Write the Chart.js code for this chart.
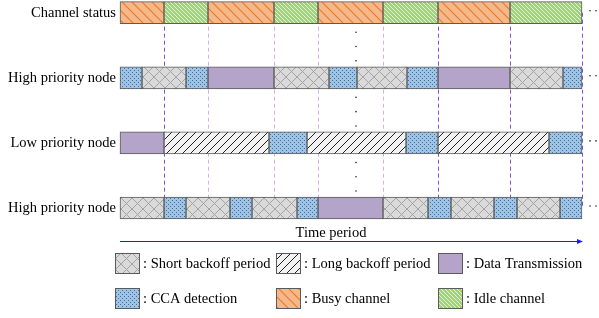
<!DOCTYPE html>
<html>
<head>
<meta charset="utf-8">
<script src="https://cdn.jsdelivr.net/npm/chart.js@4.4.1/dist/chart.umd.min.js"></script>
<style>
	body { margin: 0; background: #fff; }
	#wrap { width: 599px; height: 318px; position: relative; }
</style>
</head>
<body>
<div id="wrap"><canvas id="grafico"></canvas></div>
<script>
// Dados do diagrama (tempo em unidades do eixo, 0 a 462)
var linhas = ["Channel status", "High priority node", "Low priority node", "High priority node"];

var canalTempos = [0, 44, 88, 154, 198, 263, 318, 390, 462];
var canalTipos = ["busy", "idle", "busy", "idle", "busy", "idle", "busy", "idle"];

var alta1Tempos = [0, 22, 66, 88, 154, 209, 237, 287, 318, 390, 443, 462];
var alta1Tipos = ["cca", "short", "cca", "data", "short", "cca", "short", "cca", "data", "short", "cca"];

var baixaTempos = [0, 44, 149, 187, 286, 318, 429, 462];
var baixaTipos = ["data", "long", "cca", "long", "cca", "long", "cca"];

var alta2Tempos = [0, 44, 66, 110, 132, 177, 198, 263, 308, 331, 374, 397, 440, 462];
var alta2Tipos = ["short", "cca", "short", "cca", "short", "cca", "data", "short", "cca", "short", "cca", "short", "cca"];

var linhasTracejadas = [44, 88, 154, 198, 263, 318, 390, 462];
var tracejadoForte = [true, false, false, false, false, true, true, true];

var tempoReticencias = 236;
var tempoFim = 462;

var legendaTipos = ["short", "long", "data", "cca", "busy", "idle"];
var legendaTextos = [": Short backoff period", ": Long backoff period", ": Data Transmission",
	": CCA detection", ": Busy channel", ": Idle channel"];

var fonte = "'Liberation Serif', 'Times New Roman', serif";
var tamFonte = 14.5;
Chart.defaults.font.family = fonte;

// Padroes de preenchimento
function criarPadrao(tam, desenhar) {
	var c = document.createElement("canvas");
	c.width = tam;
	c.height = tam;
	var g = c.getContext("2d");
	desenhar(g, tam);
	return document.createElement("canvas").getContext("2d").createPattern(c, "repeat");
}

var preenchimentos = {
	data: "#b4a4c9",
	cca: criarPadrao(4, function (g, t) {
		g.fillStyle = "#9dc3e6";
		g.fillRect(0, 0, t, t);
		g.fillStyle = "#4d6e8e";
		g.fillRect(0, 0, 1, 1);
		g.fillRect(2, 2, 1, 1);
	}),
	short: criarPadrao(11, function (g, t) {
		g.fillStyle = "#dadada";
		g.fillRect(0, 0, t, t);
		g.strokeStyle = "#a3a3a3";
		g.lineWidth = 1;
		g.beginPath();
		g.moveTo(0, 0); g.lineTo(t, t);
		g.moveTo(t, 0); g.lineTo(0, t);
		g.stroke();
	}),
	long: criarPadrao(8, function (g, t) {
		g.fillStyle = "#f2f2f2";
		g.fillRect(0, 0, t, t);
		g.strokeStyle = "#222";
		g.lineWidth = 1;
		g.beginPath();
		g.moveTo(0, t); g.lineTo(t, 0);
		g.moveTo(-1, 1); g.lineTo(1, -1);
		g.moveTo(t - 1, t + 1); g.lineTo(t + 1, t - 1);
		g.stroke();
	}),
	busy: criarPadrao(10, function (g, t) {
		g.fillStyle = "#f5b88a";
		g.fillRect(0, 0, t, t);
		g.strokeStyle = "#f07a26";
		g.lineWidth = 1.2;
		g.beginPath();
		g.moveTo(0, 0); g.lineTo(t, t);
		g.moveTo(-1, t - 1); g.lineTo(1, t + 1);
		g.moveTo(t - 1, -1); g.lineTo(t + 1, 1);
		g.stroke();
	}),
	idle: criarPadrao(4, function (g, t) {
		g.fillStyle = "#a2d17e";
		g.fillRect(0, 0, t, t);
		g.strokeStyle = "#e4f2d8";
		g.lineWidth = 1;
		g.beginPath();
		g.moveTo(0, 0); g.lineTo(t, t);
		g.moveTo(-1, t - 1); g.lineTo(1, t + 1);
		g.moveTo(t - 1, -1); g.lineTo(t + 1, 1);
		g.stroke();
	}),
};

// Monta os datasets (um por posicao de segmento)
var todasLinhas = [
	{ tempos: canalTempos, tipos: canalTipos },
	{ tempos: alta1Tempos, tipos: alta1Tipos },
	{ tempos: baixaTempos, tipos: baixaTipos },
	{ tempos: alta2Tempos, tipos: alta2Tipos },
];

var maxSeg = 0;
for (var i = 0; i < todasLinhas.length; i++) {
	maxSeg = Math.max(maxSeg, todasLinhas[i].tipos.length);
}

var datasets = [];
for (let s = 0; s < maxSeg; s++) {
	datasets.push({
		data: todasLinhas.map((l) => (s < l.tipos.length ? [l.tempos[s], l.tempos[s + 1]] : null)),
		backgroundColor: todasLinhas.map((l) => (s < l.tipos.length ? preenchimentos[l.tipos[s]] : "transparent")),
		borderColor: "#5a5a5a",
		borderWidth: 1,
		borderSkipped: false,
		barThickness: 22,
		grouped: false,
		clip: false,
	});
}

function ponto(ctx, x, y) {
	ctx.beginPath();
	ctx.arc(x, y, 0.8, 0, Math.PI * 2);
	ctx.fill();
}

var extras = {
	id: "extras",
	beforeDatasetsDraw(chart) {
		var ctx = chart.ctx;
		var xs = chart.scales.x;
		var area = chart.chartArea;
		ctx.save();
		ctx.lineWidth = 1;
		ctx.setLineDash([4, 3]);
		for (var i = 0; i < linhasTracejadas.length; i++) {
			var x = Math.round(xs.getPixelForValue(linhasTracejadas[i])) + 0.5;
			ctx.strokeStyle = tracejadoForte[i] ? "#8a4fd0" : "#d2b2ee";
			ctx.beginPath();
			ctx.moveTo(x, area.top);
			ctx.lineTo(x, area.bottom);
			ctx.stroke();
		}
		ctx.restore();
	},
	afterDraw(chart) {
		var ctx = chart.ctx;
		var xs = chart.scales.x;
		var ys = chart.scales.y;
		ctx.save();
		ctx.fillStyle = "#222";

		// reticencias verticais entre as linhas
		var xr = xs.getPixelForValue(tempoReticencias);
		for (var r = 0; r < linhas.length - 1; r++) {
			var y0 = ys.getPixelForValue(r);
			var y1 = ys.getPixelForValue(r + 1);
			[0.3, 0.52, 0.74].forEach((f) => ponto(ctx, xr, y0 + (y1 - y0) * f));
		}

		// reticencias a direita
		var xf = xs.getPixelForValue(tempoFim);
		for (var r = 0; r < linhas.length; r++) {
			var yc = ys.getPixelForValue(r) - 2;
			ponto(ctx, xf + 8, yc);
			ponto(ctx, xf + 14, yc);
		}

		// seta do tempo
		var ya = 241.5;
		var xa0 = xs.getPixelForValue(0);
		var xa1 = xf + 1;
		ctx.strokeStyle = "#1a1aff";
		ctx.fillStyle = "#1a1aff";
		ctx.lineWidth = 1;
		ctx.beginPath();
		ctx.moveTo(xa0, ya);
		ctx.lineTo(xa1 - 4, ya);
		ctx.stroke();
		ctx.beginPath();
		ctx.moveTo(xa1, ya);
		ctx.lineTo(xa1 - 6, ya - 2.5);
		ctx.lineTo(xa1 - 6, ya + 2.5);
		ctx.closePath();
		ctx.fill();

		ctx.fillStyle = "#000";
		ctx.font = tamFonte + "px " + fonte;
		ctx.textAlign = "center";
		ctx.textBaseline = "alphabetic";
		ctx.fillText("Time period", 331, 237);

		// legenda
		var colX = [115, 276, 438];
		var rowY = [253, 288];
		ctx.textAlign = "left";
		ctx.textBaseline = "middle";
		for (var k = 0; k < legendaTipos.length; k++) {
			var lx = colX[k % 3];
			var ly = rowY[Math.floor(k / 3)];
			ctx.fillStyle = preenchimentos[legendaTipos[k]];
			ctx.fillRect(lx, ly, 25, 21);
			ctx.strokeStyle = "#5a5a5a";
			ctx.strokeRect(lx + 0.5, ly + 0.5, 24, 20);
			ctx.fillStyle = "#000";
			ctx.fillText(legendaTextos[k], lx + 28, ly + 11);
		}
		ctx.restore();
	},
};

new Chart(document.getElementById("grafico"), {
	type: "bar",
	data: {
		labels: linhas,
		datasets: datasets,
	},
	options: {
		indexAxis: "y",
		responsive: true,
		maintainAspectRatio: false,
		animation: false,
		layout: {
			padding: { top: 11, right: 17, bottom: 110, left: 0 },
		},
		plugins: {
			legend: { display: false },
			tooltip: { enabled: false },
		},
		scales: {
			x: {
				display: false,
				min: 0,
				max: tempoFim,
			},
			y: {
				offset: false,
				grid: { display: false, drawTicks: false },
				border: { display: false },
				ticks: {
					color: "#000",
					padding: 4,
					font: { size: tamFonte, family: fonte },
				},
				afterFit(scale) {
					scale.width = 120;
				},
			},
		},
	},
	plugins: [extras],
});
</script>
</body>
</html>
